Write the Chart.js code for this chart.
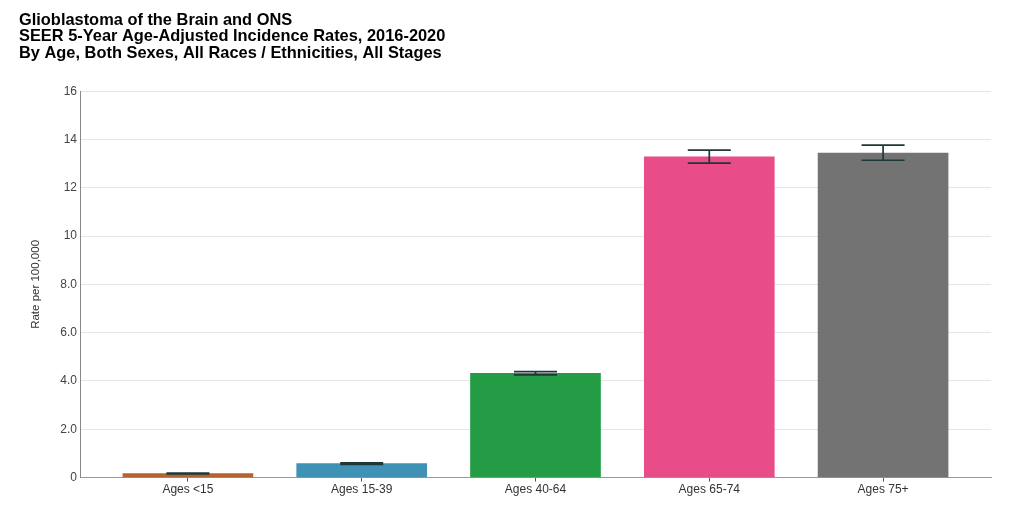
<!DOCTYPE html>
<html>
<head>
<meta charset="utf-8">
<script src="https://cdn.jsdelivr.net/npm/chart.js@4"></script>
<style>
html,body{margin:0;padding:0;background:#fff;}
#wrap{width:1024px;height:512px;}
</style>
</head>
<body>
<div id="wrap"><canvas id="c" width="1024" height="512"></canvas></div>
<script>
const titleLines = [
  "Glioblastoma of the Brain and ONS",
  "SEER 5-Year Age-Adjusted Incidence Rates, 2016-2020",
  "By Age, Both Sexes, All Races / Ethnicities, All Stages"
];
const categories = ["Ages <15", "Ages 15-39", "Ages 40-64", "Ages 65-74", "Ages 75+"];
const rates = [0.17, 0.58, 4.32, 13.28, 13.44];
const lowerCI = [0.15, 0.55, 4.25, 13.02, 13.14];
const upperCI = [0.19, 0.61, 4.39, 13.56, 13.77];
const barColors = ["#b5622f", "#3f91b6", "#239c45", "#e84d8a", "#737373"];
const yTicks = [0, 2, 4, 6, 8, 10, 12, 14, 16];
const yTitle = "Rate per 100,000";

const errorBarPlugin = {
  id: 'errorBars',
  afterDatasetsDraw(chart) {
    const ctx = chart.ctx;
    const meta = chart.getDatasetMeta(0);
    const y = chart.scales.y;
    ctx.save();
    ctx.strokeStyle = '#1e3838';
    ctx.lineWidth = 1.7;
    meta.data.forEach((bar, i) => {
      const x = bar.x;
      const yl = y.getPixelForValue(lowerCI[i]);
      const yu = y.getPixelForValue(upperCI[i]);
      const half = 21.5;
      ctx.beginPath();
      ctx.moveTo(x, yl); ctx.lineTo(x, yu);
      ctx.moveTo(x - half, yu); ctx.lineTo(x + half, yu);
      ctx.moveTo(x - half, yl); ctx.lineTo(x + half, yl);
      ctx.stroke();
    });
    ctx.restore();
  }
};

const font = 'Liberation Sans, Arial, sans-serif';

new Chart(document.getElementById('c'), {
  type: 'bar',
  data: {
    datasets: [{
      data: rates.map((v, i) => ({ x: i, y: v })),
      backgroundColor: barColors,
      borderWidth: 0,
      barThickness: 130
    }]
  },
  options: {
    responsive: false,
    animation: false,
    devicePixelRatio: 1,
    layout: { padding: { left: 19, right: 33, top: 12, bottom: 14 } },
    plugins: {
      legend: { display: false },
      tooltip: { enabled: false },
      title: {
        display: true,
        text: titleLines,
        align: 'start',
        color: '#000',
        font: { family: font, size: 16.4, weight: 'bold', lineHeight: 1.0 },
        padding: { top: 0, bottom: 30 }
      }
    },
    scales: {
      x: {
        type: 'linear',
        min: -0.621, max: 4.621,
        offset: false,
        afterBuildTicks(scale) { scale.ticks = categories.map((c, i) => ({ value: i })); },
        grid: { display: true, offset: false, drawOnChartArea: false, drawTicks: true, tickLength: 4, tickColor: '#555' },
        border: { display: true, color: '#999', width: 1 },
        ticks: {
          color: '#333', font: { family: font, size: 12 }, padding: 1,
          autoSkip: false, maxRotation: 0,
          callback(v) { return categories[v]; }
        }
      },
      y: {
        min: 0, max: 16,
        afterBuildTicks(scale) { scale.ticks = yTicks.map(v => ({ value: v })); },
        afterFit(scale) { scale.width = 61; },
        grid: { color: '#e6e6e6', drawTicks: false },
        border: { display: true, color: '#888', width: 1 },
        ticks: {
          color: '#444',
          font: { family: font, size: 12 },
          padding: 3,
          callback(v) { return v === 0 ? '0' : (v >= 10 ? String(v) : v.toFixed(1)); }
        },
        title: {
          display: true, text: yTitle, color: '#333',
          font: { family: font, size: 11.5 },
          padding: { top: 10, bottom: 0 }
        }
      }
    }
  },
  plugins: [errorBarPlugin]
});
</script>
</body>
</html>
